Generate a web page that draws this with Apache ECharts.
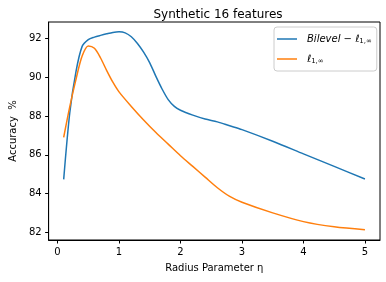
<!DOCTYPE html>
<html><head><meta charset="utf-8">
<script src="https://cdn.jsdelivr.net/npm/echarts@6/dist/echarts.min.js"></script>
<style>html,body{margin:0;padding:0;background:#fff}#c{width:386px;height:282px}</style>
</head><body><div id="c"></div>
<script>
var etaBilevel = [0.1,0.2,0.3,0.4,0.5,0.6,0.7,0.8,0.9,1.0,1.1,1.2,1.3,1.4,1.5,1.6,1.7,1.8,1.9,2.0,2.2,2.4,2.6,2.8,3.0,3.5,4.0,4.5,5.0];
var accBilevel = [84.73,88.2,90.3,91.6,91.95,92.08,92.17,92.25,92.32,92.35,92.3,92.1,91.75,91.3,90.75,90.05,89.4,88.85,88.5,88.3,88.05,87.85,87.7,87.5,87.3,86.7,86.05,85.4,84.75];
var etaL1inf = [0.1,0.2,0.3,0.4,0.5,0.6,0.7,0.8,0.9,1.0,1.2,1.4,1.6,1.8,2.0,2.2,2.4,2.6,2.8,3.0,3.5,4.0,4.5,5.0];
var accL1inf = [86.9,88.5,89.9,91.1,91.62,91.5,91.0,90.35,89.75,89.25,88.5,87.8,87.15,86.55,85.95,85.4,84.85,84.3,83.85,83.55,83.0,82.55,82.28,82.13];
var xTicks = [0,1,2,3,4,5];
var yTicks = [82,84,86,88,90,92];
var seriesNames = ['Bilevel', 'l1inf'];

function pairs(xs, ys){ return xs.map(function(x,i){ return [x, ys[i]]; }); }
var font = 'DejaVu Sans';
var chart = echarts.init(document.getElementById('c'), null, {renderer:'canvas'});
chart.setOption({
  animation:false,
  backgroundColor:'#fff',
  title:{text:'Synthetic 16 features', left:213, top:4, textAlign:'center',
    textStyle:{fontFamily:font, fontSize:12, fontWeight:'normal', color:'#000'}},
  grid:{left:46, right:6, top:22, bottom:42, show:true, borderColor:'#000', borderWidth:1, backgroundColor:'#fff'},
  legend:{orient:'vertical', left:274, top:27, padding:[5,5,5,3], itemWidth:20, itemHeight:1.5, itemGap:6,
    icon:'rect',
    backgroundColor:'#fff', borderColor:'#ccc', borderWidth:1, borderRadius:3,
    data:seriesNames,
    formatter:function(n){ return n==='Bilevel' ? '{i|Bilevel} − {i|ℓ}{s|1,∞}' : '{i|ℓ}{s|1,∞}'; },
    textStyle:{fontFamily:font, fontSize:10, color:'#000', padding:[0,0,0,5], lineHeight:14,
      rich:{i:{fontStyle:'italic', fontSize:10, fontFamily:font, color:'#000', lineHeight:14},
            s:{fontSize:7, fontFamily:font, color:'#000', padding:[5,0,0,0]}}}},
  xAxis:{type:'value', min:-0.145, max:5.245,
    name:'Radius Parameter η', nameLocation:'middle', nameGap:23,
    nameTextStyle:{fontFamily:font, fontSize:10, color:'#000'},
    axisLine:{show:true, onZero:false, lineStyle:{color:'#000', width:1}},
    axisTick:{show:true, length:3.5, customValues:xTicks, lineStyle:{color:'#000'}},
    axisLabel:{customValues:xTicks, fontFamily:font, fontSize:10, color:'#000', margin:7},
    splitLine:{show:false}},
  yAxis:{type:'value', min:81.6, max:92.86,
    name:'Accuracy  %', nameLocation:'middle', nameGap:30,
    nameTextStyle:{fontFamily:font, fontSize:10, color:'#000'},
    axisLine:{show:true, onZero:false, lineStyle:{color:'#000', width:1}},
    axisTick:{show:true, length:3.5, customValues:yTicks, lineStyle:{color:'#000'}},
    axisLabel:{customValues:yTicks, fontFamily:font, fontSize:10, color:'#000', margin:7},
    splitLine:{show:false}},
  series:[
    {name:'Bilevel', type:'line', data:pairs(etaBilevel, accBilevel), smooth:0.3, symbol:'none',
      lineStyle:{color:'#1f77b4', width:1.5}, itemStyle:{color:'#1f77b4'}},
    {name:'l1inf', type:'line', data:pairs(etaL1inf, accL1inf), smooth:0.3, symbol:'none',
      lineStyle:{color:'#ff7f0e', width:1.5}, itemStyle:{color:'#ff7f0e'}}
  ]
});
</script></body></html>
